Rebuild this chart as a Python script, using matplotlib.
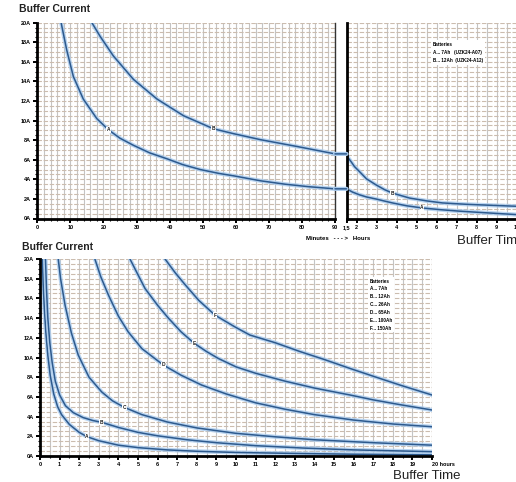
# Buffer time vs buffer current, two charts

import matplotlib
matplotlib.use('Agg')
import matplotlib.pyplot as plt
from matplotlib.patches import ConnectionPatch
import numpy as np

plt.rcParams['font.family'] = ['Liberation Sans', 'DejaVu Sans']

# --- top chart, minutes part (t in min, I in A) ---
top_a_min_t = [7.2, 8.9, 10.9, 13.9, 18, 21.5, 25, 29.1, 34, 39.2, 44, 49.3, 55, 59.5, 67.5, 75, 82, 90]
top_a_min_i = [20, 17.2, 14.5, 12.2, 10.2, 9.06, 8.2, 7.47, 6.7, 6.1, 5.5, 5.0, 4.6, 4.35, 3.85, 3.5, 3.25, 3.03]
top_b_min_t = [16.5, 19, 23, 29.1, 36.2, 44.2, 53.3, 59.4, 67.5, 78.6, 90]
top_b_min_i = [20, 18.6, 16.6, 14.2, 12.2, 10.5, 9.16, 8.66, 8.05, 7.35, 6.6]

# --- top chart, hours part ---
top_a_h_t = [1.5, 1.8, 2.15, 2.5, 2.98, 3.4, 3.8, 4.5, 5.28, 6.2, 7.15, 8.5, 10, 10.5]
top_a_h_i = [3.03, 2.7, 2.42, 2.2, 1.99, 1.78, 1.59, 1.3, 1.08, 0.9, 0.75, 0.58, 0.4, 0.36]
top_b_h_t = [1.5, 1.6, 1.73, 1.9, 2.15, 2.5, 2.98, 3.4, 3.79, 4.65, 5.5, 6.3, 7.5, 8.7, 10, 10.5]
top_b_h_i = [6.6, 6.15, 5.8, 5.3, 4.79, 4.05, 3.43, 2.95, 2.6, 2.09, 1.8, 1.59, 1.45, 1.35, 1.25, 1.22]

top_marks = {'A': (21.5, 9.06), 'B': (53.3, 9.16)}
top_marks_h = {'A': (5.28, 1.08), 'B': (3.79, 2.6)}
top_legend = ['Batteries', 'A... 7Ah   (UZK24-A07)', 'B... 12Ah  (UZK24-A12)']

# --- bottom chart (t in h, I in A) ---
bot_t = {
    'A': [0.12, 0.16, 0.22, 0.3, 0.4, 0.52, 0.7, 0.9, 1.1, 1.5, 2.0, 2.4, 3.0, 4.0, 5.0, 6.5, 8, 10, 13, 16, 20],
    'B': [0.28, 0.33, 0.4, 0.5, 0.62, 0.78, 1.0, 1.3, 1.7, 2.2, 2.7, 3.15, 4.0, 5.0, 6.0, 7.5, 9, 11, 13.5, 16, 20],
    'C': [0.93, 1.05, 1.28, 1.6, 1.95, 2.5, 3.15, 3.7, 4.3, 5.2, 6.5, 8, 10, 12, 14, 17, 20],
    'D': [2.8, 3.1, 3.5, 4.0, 4.5, 5.2, 6.29, 7.2, 8.25, 9.5, 11, 12.5, 14, 16, 18, 20],
    'E': [4.59, 5.0, 5.36, 6.0, 6.55, 7.2, 7.87, 8.5, 9.1, 10, 11, 12.5, 14, 15.8, 17, 18.4, 20],
    'F': [6.38, 6.9, 7.4, 8.1, 8.93, 9.95, 10.71, 12, 13.27, 14.5, 15.8, 17, 18.37, 20],
}
bot_i = {
    'A': [20, 17.5, 15, 12.5, 10.2, 8.2, 6.3, 5.0, 4.2, 3.2, 2.4, 1.96, 1.55, 1.1, 0.85, 0.62, 0.48, 0.36, 0.26, 0.18, 0.12],
    'B': [20, 17, 14, 11.5, 9.5, 7.6, 6.2, 5.1, 4.4, 3.9, 3.6, 3.42, 2.9, 2.4, 2.05, 1.65, 1.35, 1.05, 0.8, 0.62, 0.44],
    'C': [20, 18, 15.3, 12.5, 10.25, 8.0, 6.5, 5.6, 4.94, 4.2, 3.45, 2.85, 2.3, 1.95, 1.65, 1.35, 1.1],
    'D': [20, 18.2, 16.3, 14.2, 12.6, 10.9, 9.24, 8.2, 7.2, 6.3, 5.4, 4.75, 4.2, 3.65, 3.25, 2.97],
    'E': [20, 18.4, 17, 15.3, 14, 12.6, 11.44, 10.6, 9.9, 9.05, 8.4, 7.6, 6.9, 6.2, 5.7, 5.2, 4.67],
    'F': [20, 18.6, 17.4, 15.8, 14.3, 13.1, 12.28, 11.5, 10.6, 9.8, 8.9, 8.1, 7.2, 6.19],
}
bot_marks = {'A': (2.4, 1.96), 'B': (3.15, 3.42), 'C': (4.3, 4.94),
             'D': (6.29, 9.24), 'E': (7.87, 11.44), 'F': (8.93, 14.3)}
bot_legend = ['Batteries', 'A... 7Ah', 'B... 12Ah', 'C... 26Ah', 'D... 65Ah', 'E... 100Ah', 'F... 150Ah']

amp_ticks = np.arange(0, 21, 2)
amp_labels = ['%dA' % a for a in amp_ticks]
min_ticks = np.arange(0, 91, 10)
hour_ticks_top = [1.5, 2, 3, 4, 5, 6, 7, 8, 9, 10]
hour_labels_top = ['1,5', '2', '3', '4', '5', '6', '7', '8', '9', '10']
hour_ticks_bot = np.arange(0, 21, 1)
hour_labels_bot = [str(h) for h in hour_ticks_bot[:-1]] + ['20 hours']

W, H = 516, 482
fig = plt.figure(figsize=(W / 100, H / 100), dpi=100)

def box(x0, y0, x1, y1):
    return [x0 / W, 1 - y1 / H, (x1 - x0) / W, (y1 - y0) / H]

CURVE = '#2d5a8e'
HALO = '#a9cbee'

def curve(ax, t, i):
    ax.plot(t, i, color=HALO, lw=3.0, alpha=0.8, solid_capstyle='round')
    ax.plot(t, i, color=CURVE, lw=1.1)

def mark(ax, name, x, y):
    ax.text(x, y, name, fontsize=3.5, fontweight='bold', color='#1a1a1a',
            ha='center', va='center', zorder=5,
            bbox=dict(boxstyle='square,pad=0.1', fc='white', ec='none'))

def style(ax, xminor, yminor=0.5):
    ax.set_ylim(0, 20)
    ax.set_xticks(xminor, minor=True)
    ax.set_yticks(np.arange(0, 20.01, yminor), minor=True)
    ax.grid(which='both', axis='x', color='#c4c4c4', lw=0.8)
    ax.grid(which='both', axis='y', color='#cbbcae', lw=0.8, ls=(0, (4, 1.5)))
    ax.set_axisbelow(True)
    ax.spines['top'].set_visible(False)
    ax.spines['bottom'].set_linewidth(2.0)
    ax.spines['left'].set_linewidth(2.0)
    ax.tick_params(which='major', length=3, width=1.4, labelsize=4, pad=1.5)
    ax.tick_params(which='minor', length=1.5, width=0.8)
    for lab in ax.get_xticklabels() + ax.get_yticklabels():
        lab.set_fontweight('bold')

# top left: minutes
ax1 = fig.add_axes(box(37.3, 22.7, 335, 218.5))
ax1.set_xlim(0, 90)
ax1.set_xticks(min_ticks)
ax1.set_yticks(amp_ticks)
ax1.set_yticklabels(amp_labels)
style(ax1, np.arange(0, 90.1, 2))
ax1.spines['right'].set_linewidth(1.0)
ax1.spines['right'].set_color('#333333')
curve(ax1, top_a_min_t, top_a_min_i)
curve(ax1, top_b_min_t, top_b_min_i)
for k, (x, y) in top_marks.items():
    mark(ax1, k, x, y)

# top right: hours
ax2 = fig.add_axes(box(346.5, 22.7, 526.5, 218.5))
ax2.set_xlim(1.5, 10.5)
ax2.set_xticks(hour_ticks_top)
ax2.set_xticklabels(hour_labels_top)
ax2.set_yticks(amp_ticks)
ax2.set_yticklabels([])
style(ax2, np.arange(1.5, 10.6, 0.5))
ax2.tick_params(axis='y', which='both', length=0)
ax2.spines['right'].set_visible(False)
curve(ax2, top_a_h_t, top_a_h_i)
curve(ax2, top_b_h_t, top_b_h_i)
for k, (x, y) in top_marks_h.items():
    mark(ax2, k, x, y)
ax2.text(0.48, 0.9, '\n'.join(top_legend), transform=ax2.transAxes, fontsize=3.3,
         fontweight='bold', va='top', ha='left', linespacing=1.7,
         bbox=dict(boxstyle='square,pad=0.4', fc='white', ec='none'))

# join the two panels across the gap
for tl, il, tr, ir in [(top_a_min_t, top_a_min_i, top_a_h_t, top_a_h_i),
                       (top_b_min_t, top_b_min_i, top_b_h_t, top_b_h_i)]:
    for c, w in [(HALO, 3.0), (CURVE, 1.1)]:
        con = ConnectionPatch(xyA=(tl[-1], il[-1]), coordsA=ax1.transData,
                              xyB=(tr[0], ir[0]), coordsB=ax2.transData,
                              color=c, lw=w)
        fig.add_artist(con)

# bottom chart
ax3 = fig.add_axes(box(40, 259, 432, 456))
ax3.set_xlim(0, 20)
ax3.set_xticks(hour_ticks_bot)
ax3.set_xticklabels(hour_labels_bot)
ax3.set_yticks(amp_ticks)
ax3.set_yticklabels(amp_labels)
style(ax3, np.arange(0, 20.01, 0.5))
ax3.spines['right'].set_visible(False)
ax3.get_xticklabels()[-1].set_ha('left')
for k in bot_t:
    curve(ax3, bot_t[k], bot_i[k])
for k, (x, y) in bot_marks.items():
    mark(ax3, k, x, y)
ax3.text(0.842, 0.9, '\n'.join(bot_legend), transform=ax3.transAxes, fontsize=3.3,
         fontweight='bold', va='top', ha='left', linespacing=1.7,
         bbox=dict(boxstyle='square,pad=0.4', fc='white', ec='none'))

# labels
fig.text(19 / W, 1 - 9 / H, 'Buffer Current', fontsize=7.5, fontweight='bold', va='center', color='#222222')
fig.text(22 / W, 1 - 247 / H, 'Buffer Current', fontsize=7.5, fontweight='bold', va='center', color='#222222')
fig.text(338 / W, 1 - 239 / H, 'Minutes   - - - >   Hours', fontsize=4.3, fontweight='bold', ha='center', va='center')
fig.text(457 / W, 1 - 241 / H, 'Buffer Time', fontsize=9.5, va='center', color='#222222')
fig.text(393 / W, 1 - 476 / H, 'Buffer Time', fontsize=9.5, va='center', color='#222222')

fig.savefig('out.png', dpi=100)
